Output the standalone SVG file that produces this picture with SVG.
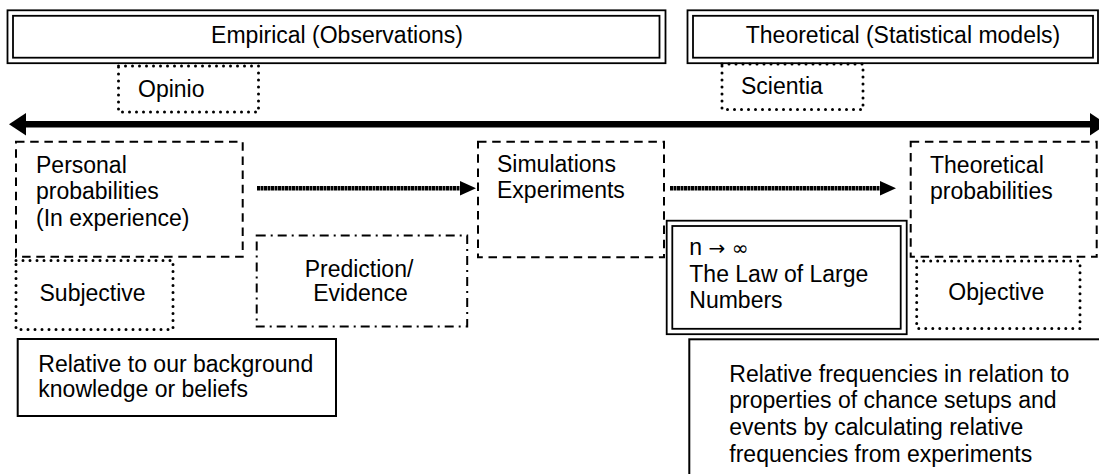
<svg xmlns="http://www.w3.org/2000/svg" width="1099" height="474" viewBox="0 0 1099 474">
<style>
  text { font-family: "Liberation Sans", Arial, sans-serif; font-size: 23px; fill: #000; }
  .sym { font-family: "DejaVu Sans", sans-serif; font-size: 20px; }
  .dbl { fill: none; stroke: #000; stroke-width: 1.8; }
  .dash { fill: none; stroke: #000; stroke-width: 2; stroke-dasharray: 8.5 5.7; }
  .dot { fill: none; stroke: #000; stroke-width: 3; stroke-linecap: round; stroke-dasharray: 0 7; }
  .dashdot { fill: none; stroke: #000; stroke-width: 2; stroke-dasharray: 9 5 2 5; }
  .solid { fill: #fff; stroke: #000; stroke-width: 2; }
  .flow { stroke: #000; stroke-width: 4.5; stroke-dasharray: 3 0.5; fill: none; }
</style>
<rect width="1099" height="474" fill="#fff"/>

<g id="empirical">
  <rect class="dbl" x="7.5" y="10.3" width="658" height="52.9" fill="#fff"/>
  <rect class="dbl" x="13" y="15.8" width="646.5" height="41.9"/>
  <text x="337" y="43" text-anchor="middle">Empirical (Observations)</text>
</g>
<g id="theoretical">
  <rect class="dbl" x="687.5" y="10.3" width="410.5" height="52.9" fill="#fff"/>
  <rect class="dbl" x="693" y="15.8" width="400" height="41.9"/>
  <text x="903" y="43" text-anchor="middle">Theoretical (Statistical models)</text>
</g>
<g id="opinio">
  <rect class="dot" x="118.5" y="66" width="140" height="46"/>
  <text x="138" y="97">Opinio</text>
</g>
<g id="scientia">
  <rect class="dot" x="722" y="64" width="141" height="45.5"/>
  <text x="741" y="93.5">Scientia</text>
</g>

<g id="connectors">
  <line x1="22" y1="124.2" x2="1092" y2="124.2" stroke="#000" stroke-width="6.4"/>
  <polygon points="9,124.2 26,113 26,135.4" fill="#000"/>
  <polygon points="1107,124.2 1090,113 1090,135.4" fill="#000"/>
  <line class="flow" x1="257" y1="188.3" x2="462" y2="188.3"/>
  <polygon points="476,188.3 460,181 460,195.6" fill="#000"/>
  <line class="flow" x1="670" y1="188.3" x2="882" y2="188.3"/>
  <polygon points="896,188.3 880,181 880,195.6" fill="#000"/>
</g>

<g id="personal">
  <rect class="dash" x="16" y="141.7" width="226.7" height="115"/>
  <text x="36" y="172.7">Personal</text>
  <text x="36" y="199.3">probabilities</text>
  <text x="36" y="226">(In experience)</text>
</g>
<g id="subjective">
  <rect class="dot" x="16" y="260.5" width="157" height="69"/>
  <text x="39.5" y="300.5">Subjective</text>
</g>
<g id="prediction">
  <rect class="dashdot" x="256.7" y="235.5" width="210.5" height="91"/>
  <text x="359" y="276.7" text-anchor="middle">Prediction/</text>
  <text x="360.5" y="300.5" text-anchor="middle">Evidence</text>
</g>
<g id="relative-background">
  <rect class="solid" x="17.7" y="339" width="318.3" height="77"/>
  <text x="38.3" y="371.7">Relative to our background</text>
  <text x="38.3" y="397.3">knowledge or beliefs</text>
</g>
<g id="simulations">
  <rect class="dash" x="478" y="141.7" width="186" height="115.6"/>
  <text x="497" y="172">Simulations</text>
  <text x="497" y="197.5">Experiments</text>
</g>
<g id="lln">
  <rect class="dbl" x="666.7" y="220.7" width="240" height="113.5" fill="#fff"/>
  <rect class="dbl" x="672.3" y="226" width="228.4" height="102.8"/>
  <text x="689.3" y="255">n <tspan class="sym">→</tspan> <tspan class="sym">∞</tspan></text>
  <text x="689.3" y="281.7">The Law of Large</text>
  <text x="689.3" y="308.3">Numbers</text>
</g>
<g id="theoretical-prob">
  <rect class="dash" x="910.7" y="141.7" width="186" height="115"/>
  <text x="930" y="172.7">Theoretical</text>
  <text x="930" y="199.3">probabilities</text>
</g>
<g id="objective">
  <rect class="dot" x="916.7" y="261" width="163.3" height="67.5"/>
  <text x="948.3" y="300">Objective</text>
</g>
<g id="relative-frequencies">
  <rect class="solid" x="689.3" y="339.3" width="420" height="150"/>
  <text x="729.3" y="381.7">Relative frequencies in relation to</text>
  <text x="729.3" y="408.3">properties of chance setups and</text>
  <text x="729.3" y="435">events by calculating relative</text>
  <text x="729.3" y="461.7">frequencies from experiments</text>
</g>
</svg>
